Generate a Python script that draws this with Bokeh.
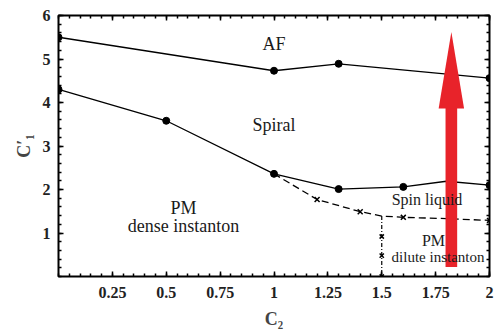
from bokeh.plotting import figure
from bokeh.models import LinearAxis, FixedTicker, Range1d, Label
from bokeh.embed import file_html
from bokeh.resources import INLINE

# Phase boundaries
af_x = [0.0, 1.0, 1.3, 2.0]
af_y = [5.5, 4.73, 4.89, 4.56]

spiral_x = [0.0, 0.5, 1.0, 1.3, 1.6, 2.0]
spiral_y = [4.3, 3.58, 2.36, 2.01, 2.06, 2.1]
spiral_line_x = [0.0, 0.5, 1.0, 1.3, 1.6, 1.8, 2.0]
spiral_line_y = [4.3, 3.58, 2.36, 2.01, 2.06, 2.19, 2.1]

liquid_x = [1.0, 1.2, 1.4, 1.5, 1.6, 1.8, 2.0]
liquid_y = [2.36, 1.77, 1.49, 1.39, 1.36, 1.33, 1.29]
liquid_mark_x = [1.2, 1.4, 1.6, 2.0]
liquid_mark_y = [1.77, 1.49, 1.36, 1.29]

dilute_x = [1.5, 1.5, 1.5, 1.5]
dilute_y = [1.39, 0.92, 0.48, 0.0]

x_ticks = [0.25, 0.5, 0.75, 1.0, 1.25, 1.5, 1.75, 2.0]
x_tick_labels = {0.25: "0.25", 0.5: "0.5", 0.75: "0.75", 1.0: "1", 1.25: "1.25",
                 1.5: "1.5", 1.75: "1.75", 2.0: "2"}
y_ticks = [1, 2, 3, 4, 5, 6]

# Arrow along C1 at fixed C2
arrow_c2 = 1.823
arrow_bottom = 0.22
arrow_head_base = 3.86
arrow_tip = 5.62
arrow_shaft_half = 0.027
arrow_head_half = 0.059

FONT = "Liberation Serif"
x_minor = [i * 0.05 for i in range(41)]
y_minor = [i * 0.2 for i in range(31)]

p = figure(width=494, height=331, output_backend="svg", toolbar_location=None,
           x_range=Range1d(0, 2), y_range=Range1d(0, 6),
           min_border_left=58, min_border_right=5, min_border_top=15, min_border_bottom=52)
p.outline_line_color = "black"
p.outline_line_width = 2
p.xgrid.visible = False
p.ygrid.visible = False
p.background_fill_color = "white"
p.border_fill_color = "white"

def style_axis(ax):
    ax.axis_line_color = None
    ax.major_tick_in = 5
    ax.major_tick_out = 0
    ax.minor_tick_in = 3
    ax.minor_tick_out = 0
    ax.major_tick_line_width = 1.5
    ax.minor_tick_line_width = 1.5
    ax.major_label_text_font = FONT
    ax.major_label_text_font_size = "16px"
    ax.major_label_text_font_style = "bold"
    ax.major_label_text_color = "#222222"

xa = p.xaxis[0]
xa.ticker = FixedTicker(ticks=x_ticks, minor_ticks=x_minor)
xa.major_label_overrides = x_tick_labels
xa.axis_label = "C₂"
xa.axis_label_text_font = FONT
xa.axis_label_text_font_size = "18px"
xa.axis_label_text_font_style = "bold"
xa.axis_label_standoff = 8
style_axis(xa)
xa.major_label_standoff = 10

ya = p.yaxis[0]
ya.ticker = FixedTicker(ticks=y_ticks, minor_ticks=y_minor)
ya.axis_label = "C′₁"
ya.axis_label_text_font = FONT
ya.axis_label_text_font_size = "18px"
ya.axis_label_text_font_style = "bold"
ya.axis_label_standoff = 6
style_axis(ya)
ya.major_label_standoff = 8

# Mirror ticks on the top and right edges, without labels
top = LinearAxis(ticker=FixedTicker(ticks=x_ticks, minor_ticks=x_minor),
                 major_label_overrides={t: "" for t in x_ticks})
style_axis(top)
p.add_layout(top, "above")
right = LinearAxis(ticker=FixedTicker(ticks=y_ticks, minor_ticks=y_minor),
                   major_label_overrides={t: "" for t in y_ticks})
style_axis(right)
p.add_layout(right, "right")

# Boundaries
p.line(af_x, af_y, line_color="black", line_width=1.3)
p.scatter(af_x, af_y, size=7, color="black")
p.line(spiral_line_x, spiral_line_y, line_color="black", line_width=1.3)
p.scatter(spiral_x, spiral_y, size=7, color="black")
p.line(liquid_x, liquid_y, line_color="black", line_width=1.3, line_dash="7 4")
p.scatter(liquid_mark_x, liquid_mark_y, marker="x", size=7, line_color="black", line_width=1.5)
p.line(dilute_x, dilute_y, line_color="black", line_width=1.2, line_dash="4 2 1 2")
p.scatter(dilute_x[1:], dilute_y[1:], marker="x", size=6, line_color="black", line_width=1.5)

# Phase labels
def lab(x, y, t, size):
    p.add_layout(Label(x=x, y=y, text=t, text_font=FONT, text_font_size=size,
                       text_align="center", text_baseline="middle", text_color="#1a1a1a"))

lab(1.0, 5.34, "AF", "18px")
lab(1.0, 3.48, "Spiral", "18px")
lab(0.58, 1.57, "PM", "18px")
lab(0.58, 1.16, "dense instanton", "18px")
lab(1.71, 1.76, "Spin liquid", "16px")
lab(1.74, 0.82, "PM", "16px")
lab(1.77, 0.45, "dilute  instanton", "15px")

# Red arrow
p.quad(left=[arrow_c2 - arrow_shaft_half], right=[arrow_c2 + arrow_shaft_half],
       bottom=[arrow_bottom], top=[arrow_head_base + 0.05], color="#E8232A", line_color=None)
p.patch([arrow_c2 - arrow_head_half, arrow_c2, arrow_c2 + arrow_head_half],
        [arrow_head_base, arrow_tip, arrow_head_base], color="#E8232A", line_color=None)

open("out.html", "w").write(file_html(p, INLINE))
